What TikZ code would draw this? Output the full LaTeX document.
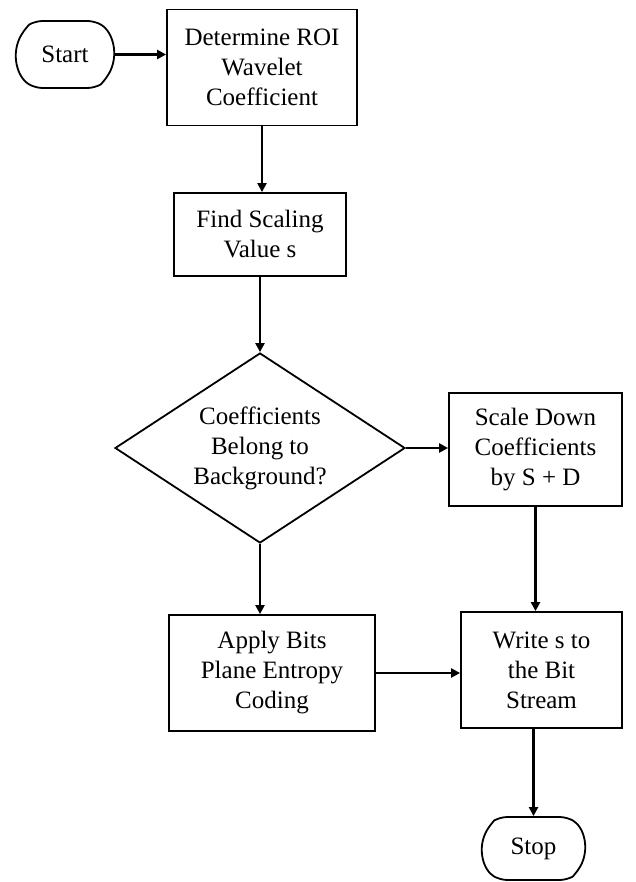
\documentclass[tikz,border=0pt]{standalone}
\usepackage{fontspec}
\setmainfont{Liberation Serif}
\usepackage{tikz}
\usetikzlibrary{arrows.meta,positioning,shapes.geometric,shapes.misc}

\begin{document}
\begin{tikzpicture}[x=1pt,y=-1pt,
		n/.style={draw,line width=1.8pt,align=center,inner sep=0pt,font=\fontsize{25}{30}\selectfont},
		proc/.style={n,rectangle},
		term/.style={n,rounded rectangle,rounded rectangle arc length=120,rounded corners=7pt},
		dec/.style={n,diamond,aspect=1.5},
		e/.style={-{Triangle[length=9pt,width=9pt]},line width=2.2pt}
		]
		\useasboundingbox (0,0) rectangle (635,882);
		% Nodes
		\node[term,minimum width=98pt,minimum height=67pt] (start) at (65,54.5) {Start};
		\node[proc,minimum width=190pt,minimum height=116pt] (roi) at (262,67.5) {Determine ROI\\Wavelet\\Coefficient};
		\node[proc,minimum width=172pt,minimum height=83pt] (scal) at (260,234.5) {Find Scaling\\Value s};
		\node[dec,minimum width=290pt,minimum height=190pt] (bg) at (260,448) {Coefficients\\Belong to\\Background?};
		\node[proc,minimum width=173pt,minimum height=113pt] (scale) at (535.5,449.5) {Scale Down\\Coefficients\\by S + D};
		\node[proc,minimum width=206pt,minimum height=116pt] (apply) at (272,673) {Apply Bits\\Plane Entropy\\Coding};
		\node[proc,minimum width=161pt,minimum height=116pt] (write) at (541.5,670) {Write s to\\the Bit\\Stream};
		\node[term,minimum width=103pt,minimum height=63pt] (stop) at (533.5,848.5) {Stop};

		% Connectors
		\draw[e] (start.east) -- (start.east -| roi.west);
		\draw[e] (roi.south) -- (roi.south |- scal.north);
		\draw[e] (scal.south) -- (bg.north);
		\draw[e] (bg.east) -- (bg.east -| scale.west);
		\draw[e] (scale.south) -- (scale.south |- write.north);
		\draw[e] (bg.south) -- (bg.south |- apply.north);
		\draw[e] (apply.east) -- (apply.east -| write.west);
		\draw[e] (write.south -| stop.north) -- (stop.north);
	\end{tikzpicture}
\end{document}
